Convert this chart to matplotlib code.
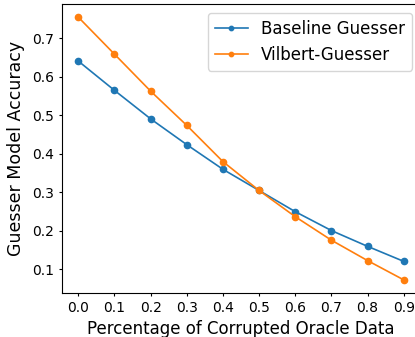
import numpy as np
import matplotlib
matplotlib.use("Agg")
from matplotlib import pyplot as plt

corruption = [0.0, 0.1, 0.2, 0.3, 0.4, 0.5, 0.6, 0.7, 0.8, 0.9]
baseline_acc = [0.641, 0.565, 0.491, 0.424, 0.360, 0.305, 0.250, 0.201, 0.160, 0.121]
vilbert_acc = [0.755, 0.659, 0.563, 0.474, 0.380, 0.305, 0.237, 0.176, 0.123, 0.073]

W, H = 415, 337
fig = plt.figure(figsize=(W/100, H/100), dpi=100)
# axes runs past the right edge of the image, like the cropped original
ax = fig.add_axes([62/W, (H-293)/H, (420-62)/W, (293-4)/H])

ax.plot(corruption, baseline_acc, marker='o', markersize=4.5, linewidth=1.2, label='Baseline Guesser')
ax.plot(corruption, vilbert_acc, marker='o', markersize=4.5, linewidth=1.2, label='Vilbert-Guesser')

ax.set_xticks(corruption)
ax.tick_params(labelsize=10, length=2, pad=4)
ax.set_xlabel('Percentage of Corrupted Oracle Data', fontsize=12, labelpad=3)
ax.set_ylabel('Guesser Model Accuracy', fontsize=12.5, labelpad=5)

ax.legend(fontsize=12, loc='upper right', bbox_to_anchor=(412/W, 1-13/H),
          bbox_transform=fig.transFigure, borderaxespad=0, markerscale=0.7)

fig.savefig('out.png', dpi=100)
